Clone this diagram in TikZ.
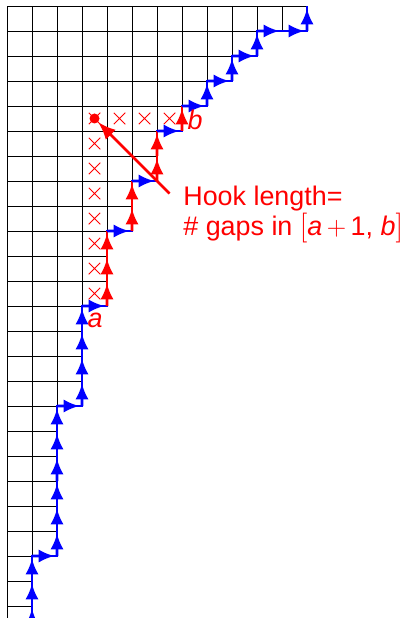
\documentclass[tikz,border=0pt]{standalone}
\usepackage{fontspec}
\setmainfont{Liberation Sans}
\newfontfamily\lmfont{Latin Modern Roman}
\usetikzlibrary{arrows.meta,calc}
\definecolor{pblue}{RGB}{0,0,255}
\definecolor{pred}{RGB}{255,0,0}
\tikzset{
  gridline/.style={draw=black,line width=0.55pt},
  bnd/.style={line width=1.6pt},
  tipped/.style={-{Latex[length=9pt,width=7.5pt]}},
  crossline/.style={draw=pred,line width=0.6pt},
  pointer/.style={draw=pred,line width=1.5pt,-{Latex[length=10pt,width=8pt]}},
  reddot/.style={circle,fill=pred,inner sep=0pt,minimum size=0.2cm},
  lbl/.style={text=pred,font=\fontsize{15.3}{14.3}\selectfont,inner sep=0pt},
}
\newcommand\runseg[5]{%
  \draw[bnd,#1] (#2,#3) -- (#4,#5);
  \pgfmathtruncatemacro\nsteps{abs(#4-#2)+abs(#5-#3)}%
  \foreach \k in {1,...,\nsteps}{%
    \draw[bnd,#1,tipped] ($(#2,#3)!{(\k-1)/\nsteps}!(#4,#5)$) -- ($(#2,#3)!{(\k-0.1)/\nsteps}!(#4,#5)$);
  }%
}
\newcommand\xmark[2]{%
  \draw[crossline] (#1-0.23,#2-0.23) -- (#1+0.23,#2+0.23) (#1-0.23,#2+0.23) -- (#1+0.23,#2-0.23);
}
\begin{document}
\begin{tikzpicture}[x=0.5cm,y=-0.5cm]
\useasboundingbox (-0.28,-0.24) rectangle (15.88,24.48);
\clip (-0.28,-0.24) rectangle (15.88,24.48);
% grid of cells
\foreach \len [count=\r from 0] in {12,10,9,8,7,6,6,5,5,4,4,4,3,3,3,3,2,2,2,2,2,2,1,1,1}{
  \foreach \c in {1,...,\len}{
    \draw[gridline] (\c-1,\r) rectangle (\c,\r+1);
  }
}
% crosses of the hook
\foreach \c in {3,...,6}{ \xmark{\c+0.5}{4.5} }
\foreach \r in {5,...,11}{ \xmark{3.5}{\r+0.5} }
% boundary path
\draw[bnd,pblue,line join=miter] (1,25) -- (1,22) -- (2,22) -- (2,16) -- (3,16) -- (3,12) -- (4,12)
  -- (4,9) -- (5,9) -- (5,7) -- (6,7) -- (6,5) -- (7,5) -- (7,4) -- (8,4) -- (8,3) -- (9,3)
  -- (9,2) -- (10,2) -- (10,1) -- (12,1) -- (12,0);
\runseg{pblue}{1}{25}{1}{22}
\runseg{pblue}{1}{22}{2}{22}
\runseg{pblue}{2}{22}{2}{16}
\runseg{pblue}{2}{16}{3}{16}
\runseg{pblue}{3}{16}{3}{12}
\runseg{pblue}{3}{12}{4}{12}
\runseg{pred}{4}{12}{4}{9}
\runseg{pblue}{4}{9}{5}{9}
\runseg{pred}{5}{9}{5}{7}
\runseg{pblue}{5}{7}{6}{7}
\runseg{pred}{6}{7}{6}{5}
\runseg{pblue}{6}{5}{7}{5}
\runseg{pred}{7}{5}{7}{4}
\runseg{pblue}{7}{4}{8}{4}
\runseg{pblue}{8}{4}{8}{3}
\runseg{pblue}{8}{3}{9}{3}
\runseg{pblue}{9}{3}{9}{2}
\runseg{pblue}{9}{2}{10}{2}
\runseg{pblue}{10}{2}{10}{1}
\runseg{pblue}{10}{1}{12}{1}
\runseg{pblue}{12}{1}{12}{0}
% labels
\node[lbl] (la) at (3.52,12.56) {\textit{a}};
\node[lbl] (lb) at (7.52,4.56) {\textit{b}};
% dot and pointer
\node[reddot] (dot) at (3.5,4.5) {};
\coordinate (ptr) at (6.5,7.5);
\draw[pointer] (ptr) -- (dot);
\node[lbl,align=left,anchor=north west] (hook) at (7.04,7.2)
  {Hook length=\\\# gaps in {\lmfont\fontsize{17}{17}\selectfont[}\textit{a}\,{\lmfont+}\,1, \textit{b}{\lmfont\fontsize{17}{17}\selectfont]}};
\end{tikzpicture}
\end{document}
